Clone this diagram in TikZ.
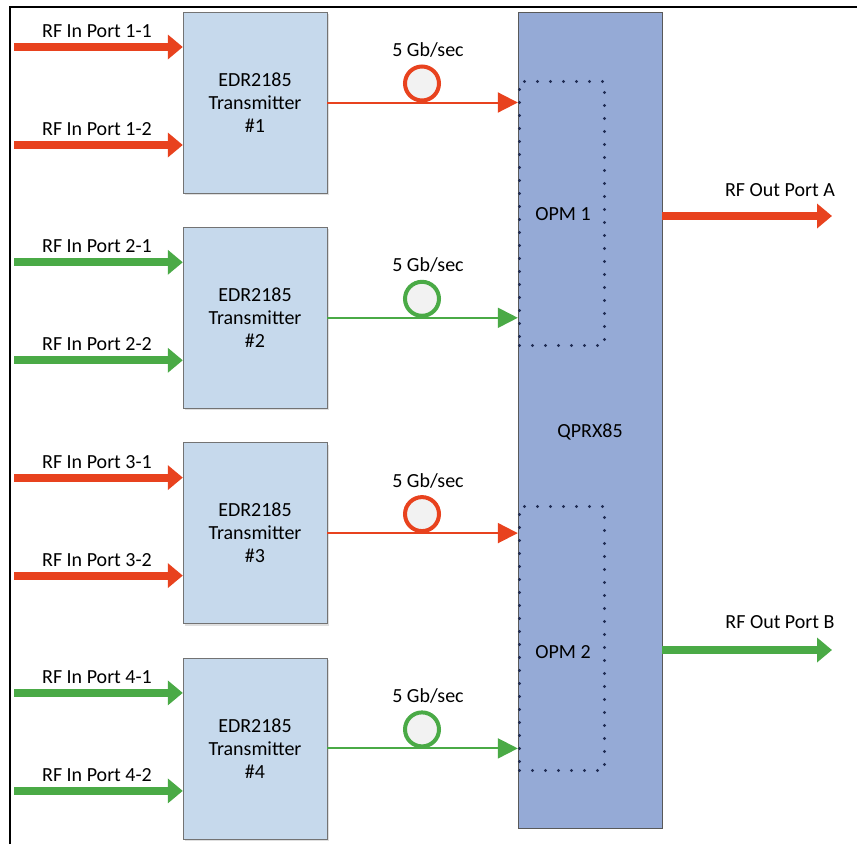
\documentclass[tikz,border=0pt]{standalone}
\usepackage{fontspec}
\setmainfont{Carlito}
\usetikzlibrary{arrows.meta,positioning,shadows}

\definecolor{rfred}{RGB}{232,66,30}
\definecolor{rfgreen}{RGB}{74,170,70}
\definecolor{txfill}{RGB}{198,217,236}
\definecolor{qfill}{RGB}{149,170,214}
\definecolor{opmdot}{RGB}{32,44,84}

\begin{document}
\begin{tikzpicture}[x=1pt,y=-1pt,
    font=\fontsize{20}{23}\selectfont,
    txbox/.style={draw=black!55,fill=txfill,minimum width=144pt,minimum height=181pt,
      align=center,inner sep=0pt,drop shadow={opacity=0.25,shadow xshift=2pt,shadow yshift=-2pt}},
    inarrow/.style={line width=8pt,-{Triangle[length=15pt,width=24pt]}},
    link/.style={line width=2pt,-{Triangle[length=20pt,width=20pt]}},
    ring/.style={circle,line width=4pt,fill=black!5,minimum size=34pt,inner sep=0pt},
    opmbox/.style={draw=opmdot,line width=3.2pt,line cap=round,dash pattern=on 0pt off 13pt,
      minimum width=85pt,minimum height=264pt,inner sep=0pt}]
    \useasboundingbox (0,0) rectangle (857,844);

    % frame
    \draw[line width=2pt] (10,844) -- (10,7) -- (857,7);

    % receiver
    \node[draw=black!65,fill=qfill,minimum width=144pt,minimum height=816pt,inner sep=0pt] (qprx) at (590,420) {};
    \node (qlabel) at (590,432) {QPRX85};

    \node[opmbox] (opm1) at (562,213.5) {};
    \node[opmbox] (opm2) at (562,638.5) {};
    \node (opmlabel1) at (563,214) {OPM 1};
    \node (opmlabel2) at (563,652) {OPM 2};

    % transmitters
    \foreach \i/\c in {1/rfred,2/rfgreen,3/rfred,4/rfgreen} {
      \pgfmathsetmacro{\top}{12+(\i-1)*215.3}
      \node[txbox] (tx\i) at (255,\top+90.5) {EDR2185\\Transmitter\\\#\i};

      \coordinate (in\i a) at (14,\top+35);
      \coordinate (in\i b) at (14,\top+133);
      \draw[inarrow,\c] (in\i a) -- (tx\i.west |- in\i a);
      \draw[inarrow,\c] (in\i b) -- (tx\i.west |- in\i b);
      \node (inlabel\i a) at (97,\top+19) {RF In Port \i-1};
      \node (inlabel\i b) at (97,\top+117) {RF In Port \i-2};

      \draw[link,\c] (tx\i.east) -- (qprx.west |- tx\i.east);
      \node[ring,draw=\c] (ring\i) at (422,\top+71.5) {};
      \node (rate\i) at (428,\top+38) {5 Gb/sec};
    }

    % outputs
    \coordinate (outA) at (832,216);
    \coordinate (outB) at (832,650);
    \draw[inarrow,rfred] (qprx.east |- outA) -- (outA);
    \draw[inarrow,rfgreen] (qprx.east |- outB) -- (outB);
    \node (outlabelA) at (780,190) {RF Out Port A};
    \node (outlabelB) at (780,622) {RF Out Port B};
  \end{tikzpicture}
\end{document}
